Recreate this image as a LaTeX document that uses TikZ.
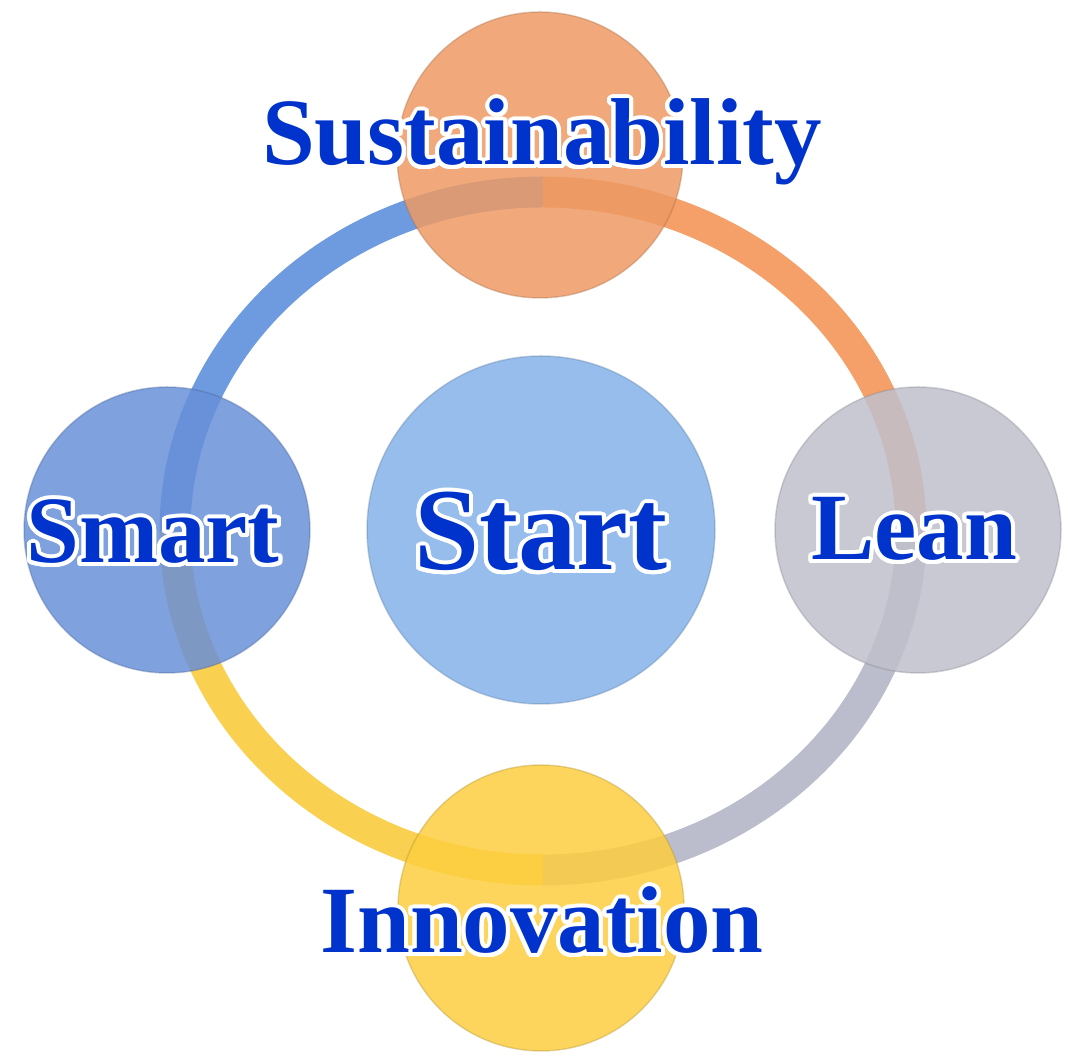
\documentclass[tikz,border=0pt]{standalone}
\usepackage{fontspec}
\setmainfont{Liberation Serif}
\usepackage[rgb]{xcolor}
\usepackage{tikz}
\usepackage{contour}
\contourlength{4pt}
\contournumber{32}
\usetikzlibrary{positioning}

\definecolor{txtblue}{HTML}{0033CC}
\definecolor{sustfill}{HTML}{EE9A64}
\definecolor{smartfill}{HTML}{6890D8}
\definecolor{leanfill}{HTML}{C0C0CC}
\definecolor{innovfill}{HTML}{FDCE40}
\definecolor{startfill}{HTML}{84B2E8}
\definecolor{ringorange}{HTML}{F4A068}
\definecolor{ringblue}{HTML}{6E9BE0}
\definecolor{ringgrey}{HTML}{BBBDCC}
\definecolor{ringyellow}{HTML}{F9D050}

\tikzset{
  ball/.style={circle, inner sep=0pt, outer sep=0pt, minimum size=286pt,
    fill opacity=0.85, draw opacity=0.35, line width=1.5pt},
  ring/.style={line width=31pt},
  lbl/.style={anchor=base, inner sep=0pt, text=txtblue,
    font=\fontsize{95}{100}\selectfont\bfseries},
}

\begin{document}
\begin{tikzpicture}[x=10pt, y=10pt]

\useasboundingbox (0,0) rectangle (106.8,106.4);

% Ring, four quarters
\coordinate (ringE) at (91.1,53.3);
\coordinate (ringN) at (54.3,87.2);
\coordinate (ringW) at (17.5,53.3);
\coordinate (ringS) at (54.3,19.4);

\draw[ring, ringorange] (ringE) arc[start angle=0, end angle=90, x radius=36.8, y radius=33.9];
\draw[ring, ringblue] (ringN) arc[start angle=90, end angle=180, x radius=36.8, y radius=33.9];
\draw[ring, ringyellow] (ringW) arc[start angle=180, end angle=270, x radius=36.8, y radius=33.9];
\draw[ring, ringgrey] (ringS) arc[start angle=270, end angle=360, x radius=36.8, y radius=33.9];

%
% Balls
%
\node[ball, fill=sustfill, draw=sustfill!70!black] (sust) at (54.0,90.9) {};
\node[ball, fill=smartfill, draw=smartfill!70!black] (smart) at (16.7,53.4) {};
\node[ball, fill=leanfill, draw=leanfill!70!black] (lean) at (91.8,53.4) {};
\node[ball, fill=innovfill, draw=innovfill!70!black] (innov) at (54.1,15.6) {};
\node[ball, fill=startfill, draw=startfill!70!black, minimum size=348pt] (start) at (54.1,53.4) {};

%
% Labels
%
\node[lbl] (sustlbl) at (54.2,89.9) {\contour{white}{Sustainability}};
\node[lbl] (smartlbl) at (15.3,50.1) {\contour{white}{Smart}};
\node[lbl] (leanlbl) at (91.4,50.4) {\contour{white}{Lean}};
\node[lbl] (innovlbl) at (54.2,11.1) {\contour{white}{Innovation}};
\node[lbl, font=\fontsize{117}{120}\selectfont\bfseries] (startlbl) at (54.1,49.4) {\contour{white}{Start}};

\end{tikzpicture}
\end{document}
